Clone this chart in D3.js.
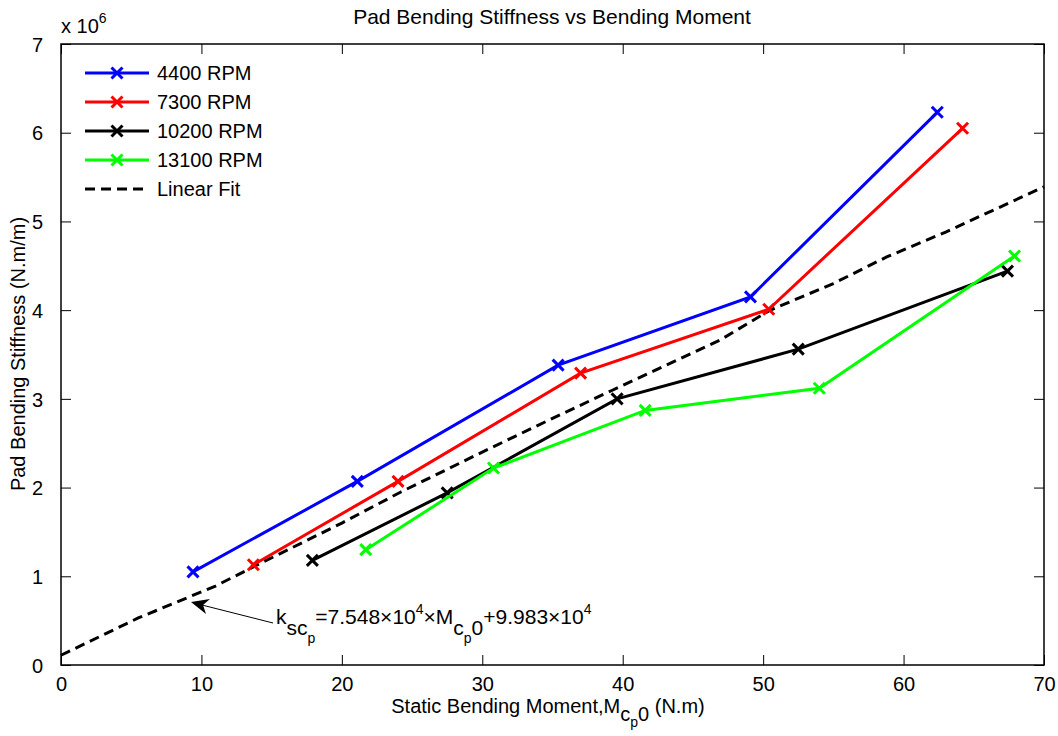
<!DOCTYPE html>
<html lang="en">
<head>
<meta charset="UTF-8">
<title>Pad Bending Stiffness vs Bending Moment</title>
<script src="https://d3js.org/d3.v7.min.js"></script>
<style>
    body { margin: 0; background: #fff; }
    svg text { font-family: "Liberation Sans", Arial, sans-serif; fill: #000; }
</style>
</head>
<body>
<svg width="1058" height="736"></svg>
<script>
// series values (moment in N.m, stiffness in 1e6 N.m/m)
const rpm4400x = [9.4, 21.1, 35.4, 49.1, 62.4];
const rpm4400y = [1.05, 2.07, 3.38, 4.15, 6.23];
const rpm7300x = [13.7, 24.0, 37.0, 50.4, 64.2];
const rpm7300y = [1.13, 2.07, 3.29, 4.01, 6.05];
const rpm10200x = [17.9, 27.5, 39.6, 52.5, 67.4];
const rpm10200y = [1.18, 1.94, 3.00, 3.56, 4.44];
const rpm13100x = [21.7, 30.8, 41.6, 54.0, 67.9];
const rpm13100y = [1.30, 2.22, 2.87, 3.12, 4.61];
const fitX = [0, 5.5, 11, 14, 20, 24.2, 30, 35, 39.3, 46.9, 50.5, 55, 58.8, 63, 70];
const fitY = [0.11, 0.53, 0.89, 1.13, 1.60, 1.95, 2.40, 2.78, 3.10, 3.66, 4.00, 4.30, 4.60, 4.88, 5.39];
const seriesNames = ["4400 RPM", "7300 RPM", "10200 RPM", "13100 RPM"];
const seriesColors = ["#0000ff", "#ff0000", "#000000", "#00ff00"];
const xTicks = [0, 10, 20, 30, 40, 50, 60, 70];
const yTicks = [0, 1, 2, 3, 4, 5, 6, 7];

const svg = d3.select("svg");
const mLeft = 61, mRight = 1044, mTop = 44, mBottom = 665;

const x = d3.scaleLinear().domain([0, 70]).range([mLeft, mRight]);
const y = d3.scaleLinear().domain([0, 7]).range([mBottom, mTop]);

// axes box with inward ticks on all sides
const g = svg.append("g");
g.append("rect")
    .attr("x", mLeft).attr("y", mTop)
    .attr("width", mRight - mLeft).attr("height", mBottom - mTop)
    .attr("fill", "none").attr("stroke", "#000").attr("stroke-width", 1.5);

const xb = g.append("g").attr("transform", `translate(0,${mBottom})`)
    .call(d3.axisBottom(x).tickValues(xTicks).tickSize(-10).tickPadding(12).tickFormat(d3.format("d")));
const xt = g.append("g").attr("transform", `translate(0,${mTop})`)
    .call(d3.axisTop(x).tickValues(xTicks).tickSize(-10).tickFormat(""));
const yl = g.append("g").attr("transform", `translate(${mLeft},0)`)
    .call(d3.axisLeft(y).tickValues(yTicks).tickSize(-10).tickPadding(18).tickFormat(d3.format("d")));
const yr = g.append("g").attr("transform", `translate(${mRight},0)`)
    .call(d3.axisRight(y).tickValues(yTicks).tickSize(-10).tickFormat(""));
[xb, xt, yl, yr].forEach(a => {
    a.select(".domain").remove();
    a.attr("font-size", null).attr("font-family", null);
    a.selectAll("line").attr("stroke", "#000").attr("stroke-width", 1);
    a.selectAll("text").style("font-size", "20px").attr("fill", "#000");
});
xb.selectAll("text").attr("dy", "0.72em");
yl.selectAll("text").attr("dy", "0.36em");

// exponent label
svg.append("text").attr("x", 61).attr("y", 33).style("font-size", "20px")
    .html('x 10<tspan dy="-10" style="font-size:14px">6</tspan>');

// linear fit
const line = d3.line().x(d => x(d[0])).y(d => y(d[1]));
svg.append("path")
    .datum(fitX.map((v, i) => [v, fitY[i]]))
    .attr("d", line)
    .attr("fill", "none").attr("stroke", "#000")
    .attr("stroke-width", 3).attr("stroke-dasharray", "10,6");

// data series
const allX = [rpm4400x, rpm7300x, rpm10200x, rpm13100x];
const allY = [rpm4400y, rpm7300y, rpm10200y, rpm13100y];

function cross(sel, cx, cy, color) {
    const s = 5.5;
    sel.append("path")
        .attr("d", `M${cx - s},${cy - s}L${cx + s},${cy + s}M${cx - s},${cy + s}L${cx + s},${cy - s}`)
        .attr("stroke", color).attr("stroke-width", 3).attr("fill", "none");
}

allX.forEach((xs, k) => {
    const pts = xs.map((v, i) => [v, allY[k][i]]);
    svg.append("path").datum(pts).attr("d", line)
        .attr("fill", "none").attr("stroke", seriesColors[k]).attr("stroke-width", 3);
    pts.forEach(p => cross(svg, x(p[0]), y(p[1]), seriesColors[k]));
});

// legend
const legend = svg.append("g");
seriesNames.concat(["Linear Fit"]).forEach((name, i) => {
    const ly = 73 + i * 29;
    if (i < 4) {
        legend.append("line").attr("x1", 85).attr("x2", 149).attr("y1", ly).attr("y2", ly)
            .attr("stroke", seriesColors[i]).attr("stroke-width", 3);
        cross(legend, 117, ly, seriesColors[i]);
    } else {
        legend.append("line").attr("x1", 85).attr("x2", 149).attr("y1", ly).attr("y2", ly)
            .attr("stroke", "#000").attr("stroke-width", 3).attr("stroke-dasharray", "10,6");
    }
    legend.append("text").attr("x", 157).attr("y", ly + 7).style("font-size", "20px").text(name);
});

// annotation arrow
svg.append("line").attr("x1", 273).attr("y1", 623).attr("x2", 194).attr("y2", 603)
    .attr("stroke", "#000").attr("stroke-width", 1);
svg.append("path").attr("d", "M191,602 L210,599 L203,605 L206,614 Z").attr("fill", "#000");

svg.append("text").attr("x", 276).attr("y", 624).style("font-size", "21px")
    .html('k<tspan dy="11">sc</tspan><tspan dy="8" style="font-size:14px">p</tspan>' +
          '<tspan dy="-19">=7.548×10</tspan><tspan dy="-10" style="font-size:14px">4</tspan>' +
          '<tspan dy="10">×M</tspan><tspan dy="11">c</tspan><tspan dy="8" style="font-size:14px">p</tspan>' +
          '<tspan dy="-8">0</tspan><tspan dy="-11">+9.983×10</tspan><tspan dy="-10" style="font-size:14px">4</tspan>');

// title and axis labels
svg.append("text").attr("x", 552).attr("y", 24).attr("text-anchor", "middle")
    .style("font-size", "21px").text("Pad Bending Stiffness vs Bending Moment");
svg.append("text").attr("x", 548).attr("y", 713).attr("text-anchor", "middle").style("font-size", "20px")
    .html('Static Bending Moment,M<tspan dy="8">c</tspan><tspan dy="6" style="font-size:14px">p</tspan><tspan dy="-6">0</tspan><tspan dy="-8"> (N.m)</tspan>');
svg.append("text").attr("transform", "translate(25,354) rotate(-90)")
    .attr("text-anchor", "middle").style("font-size", "20px").text("Pad Bending Stiffness (N.m/m)");
</script>
</body>
</html>
